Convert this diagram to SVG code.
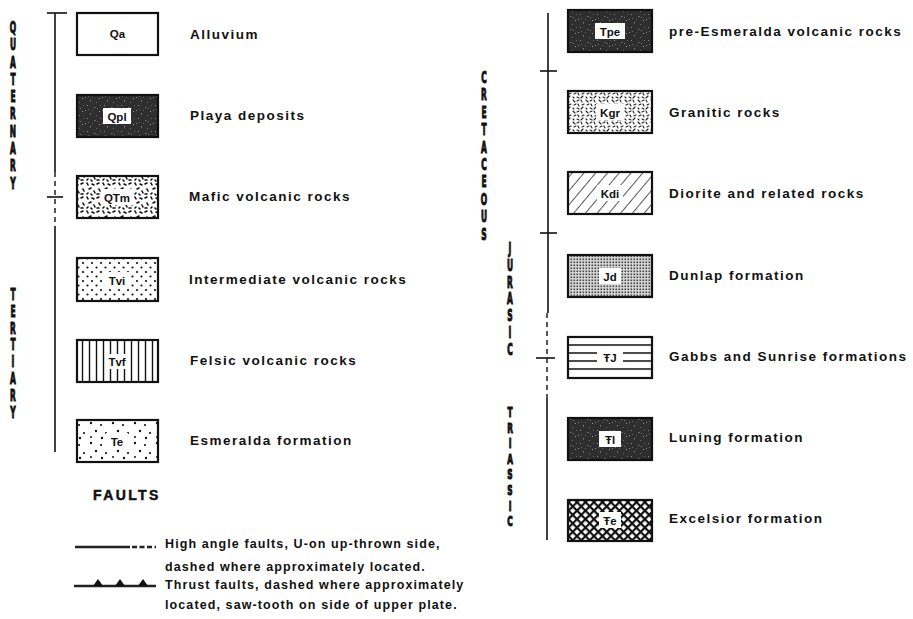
<svg xmlns="http://www.w3.org/2000/svg" width="913" height="619" viewBox="0 0 913 619">
<style>
.lbl{font-family:"Liberation Sans",Arial,sans-serif;font-weight:bold;font-size:13.5px;letter-spacing:1.5px;fill:#111}
.sym{font-family:"Liberation Sans",Arial,sans-serif;font-weight:bold;font-size:11.5px;fill:#111;text-anchor:middle}
.vert{font-family:"DejaVu Sans","Liberation Sans",sans-serif;font-weight:bold;font-size:15px;fill:#111;stroke:#111;stroke-width:1.1;text-anchor:middle}
.box{stroke:#111;stroke-width:2.2}
.tl{stroke:#111;stroke-width:1.6;fill:none}
.tld{stroke:#111;stroke-width:1.4;fill:none;stroke-dasharray:5 4}
.flt{font-family:"Liberation Sans",Arial,sans-serif;font-weight:bold;font-size:12.5px;letter-spacing:1.1px;fill:#111}
</style>
<defs>
<pattern id="dark" width="17" height="13" patternUnits="userSpaceOnUse">
<rect width="17" height="13" fill="#2e2e2e"/>
<rect x="2" y="1" width="1" height="1" fill="#8a8a8a"/><rect x="9" y="3" width="1.5" height="1" fill="#777"/>
<rect x="14" y="7" width="1" height="1" fill="#999"/><rect x="5" y="9" width="1" height="1.5" fill="#808080"/>
<rect x="11" y="11" width="1" height="1" fill="#6d6d6d"/><rect x="0" y="6" width="1" height="1" fill="#888"/>
<rect x="7" y="6" width="1" height="1" fill="#5e5e5e"/><rect x="15" y="1" width="1" height="1" fill="#666"/>
<rect x="12" y="4" width="1" height="1" fill="#777"/><rect x="3" y="5" width="1" height="1" fill="#6a6a6a"/>
</pattern>
<pattern id="mafic" width="16" height="14" patternUnits="userSpaceOnUse">
<rect width="16" height="14" fill="#fff"/>
<g stroke="#111" stroke-width="1.6" stroke-linecap="round">
<line x1="1" y1="2" x2="3" y2="1"/><line x1="7" y1="1" x2="8" y2="3"/><line x1="12" y1="2" x2="14" y2="3"/>
<line x1="3" y1="7" x2="4" y2="9"/><line x1="9" y1="7" x2="11" y2="6"/><line x1="14" y1="9" x2="15" y2="11"/>
<line x1="1" y1="12" x2="3" y2="12"/><line x1="7" y1="12" x2="8" y2="11"/><line x1="11" y1="12" x2="12" y2="13"/>
</g>
</pattern>
<pattern id="dots" width="9" height="9" patternUnits="userSpaceOnUse">
<rect width="9" height="9" fill="#fff"/>
<circle cx="2" cy="2" r="1.1" fill="#111"/><circle cx="6.5" cy="6.5" r="1.1" fill="#111"/>
</pattern>
<pattern id="vl" width="7" height="10" patternUnits="userSpaceOnUse" x="79">
<rect width="7" height="10" fill="#fff"/>
<line x1="3.5" y1="0" x2="3.5" y2="10" stroke="#111" stroke-width="1.4"/>
</pattern>
<pattern id="sparse" width="22" height="20" patternUnits="userSpaceOnUse">
<rect width="22" height="20" fill="#fff"/>
<g fill="#111"><circle cx="3" cy="3" r="1.2"/><circle cx="13" cy="5" r="1.1"/><circle cx="8" cy="11" r="1.2"/>
<circle cx="18" cy="13" r="1.1"/><circle cx="3" cy="17" r="1"/><circle cx="14" cy="18" r="1.2"/></g>
</pattern>
<pattern id="gran" width="13" height="11" patternUnits="userSpaceOnUse">
<rect width="13" height="11" fill="#fff"/>
<g stroke="#222" stroke-width="1.1" stroke-linecap="round">
<line x1="1" y1="1" x2="3" y2="3"/><line x1="5" y1="2" x2="7" y2="1"/><line x1="9" y1="1" x2="10" y2="3"/>
<line x1="2" y1="6" x2="4" y2="5"/><line x1="6" y1="5" x2="7" y2="7"/><line x1="10" y1="6" x2="12" y2="5"/>
<line x1="1" y1="9" x2="2" y2="10"/><line x1="5" y1="9" x2="7" y2="10"/><line x1="9" y1="10" x2="11" y2="8"/>
</g>
</pattern>
<pattern id="hatch" width="9" height="9" patternUnits="userSpaceOnUse" patternTransform="rotate(40)">
<rect width="9" height="9" fill="#fff"/>
<line x1="0" y1="0" x2="0" y2="9" stroke="#111" stroke-width="1.4"/>
</pattern>
<pattern id="stip" width="3" height="3" patternUnits="userSpaceOnUse">
<rect width="3" height="3" fill="#d8d8d8"/>
<rect x="0.5" y="0.5" width="1.6" height="1.6" fill="#444"/>
</pattern>
<pattern id="xh" width="6" height="6" patternUnits="userSpaceOnUse" patternTransform="rotate(45)">
<rect width="6" height="6" fill="#fff"/>
<rect width="6" height="2.2" fill="#111"/><rect width="2.2" height="6" fill="#111"/>
</pattern>
</defs>

<!-- timelines -->
<g id="connectors">
<line class="tl" x1="47" y1="13" x2="67" y2="13"/>
<line class="tl" x1="55" y1="13" x2="55" y2="172"/>
<line class="tld" x1="55" y1="172" x2="55" y2="226"/>
<line class="tl" x1="47" y1="197" x2="63" y2="197"/>
<line class="tl" x1="55" y1="226" x2="55" y2="452"/>

<line class="tl" x1="548" y1="13" x2="548" y2="313"/>
<line class="tl" x1="540" y1="71" x2="557" y2="71"/>
<line class="tl" x1="540" y1="233" x2="557" y2="233"/>
<line class="tld" x1="547" y1="313" x2="547" y2="398"/>
<line class="tl" x1="536" y1="358" x2="555" y2="358"/>
<line class="tl" x1="547" y1="398" x2="547" y2="540"/>
</g>

<!-- period labels -->
<g id="periods">
<text class="vert" transform="translate(13,0) scale(0.5,1)"><tspan x="0" y="33">Q</tspan><tspan x="0" dy="17.3">U</tspan><tspan x="0" dy="17.3">A</tspan><tspan x="0" dy="17.3">T</tspan><tspan x="0" dy="17.3">E</tspan><tspan x="0" dy="17.3">R</tspan><tspan x="0" dy="17.3">N</tspan><tspan x="0" dy="17.3">A</tspan><tspan x="0" dy="17.3">R</tspan><tspan x="0" dy="17.3">Y</tspan></text>
<text class="vert" transform="translate(13,0) scale(0.5,1)"><tspan x="0" y="300">T</tspan><tspan x="0" dy="16.8">E</tspan><tspan x="0" dy="16.8">R</tspan><tspan x="0" dy="16.8">T</tspan><tspan x="0" dy="16.8">I</tspan><tspan x="0" dy="16.8">A</tspan><tspan x="0" dy="16.8">R</tspan><tspan x="0" dy="16.8">Y</tspan></text>
<text class="vert" transform="translate(484,0) scale(0.5,1)"><tspan x="0" y="83">C</tspan><tspan x="0" dy="17.4">R</tspan><tspan x="0" dy="17.4">E</tspan><tspan x="0" dy="17.4">T</tspan><tspan x="0" dy="17.4">A</tspan><tspan x="0" dy="17.4">C</tspan><tspan x="0" dy="17.4">E</tspan><tspan x="0" dy="17.4">O</tspan><tspan x="0" dy="17.4">U</tspan><tspan x="0" dy="17.4">S</tspan></text>
<text class="vert" transform="translate(510,0) scale(0.5,1)"><tspan x="0" y="254">J</tspan><tspan x="0" dy="16.8">U</tspan><tspan x="0" dy="16.8">R</tspan><tspan x="0" dy="16.8">A</tspan><tspan x="0" dy="16.8">S</tspan><tspan x="0" dy="16.8">I</tspan><tspan x="0" dy="16.8">C</tspan></text>
<text class="vert" style="font-size:13.5px" transform="translate(510,0) scale(0.55,1)"><tspan x="0" y="417">T</tspan><tspan x="0" dy="15.6">R</tspan><tspan x="0" dy="15.6">I</tspan><tspan x="0" dy="15.6">A</tspan><tspan x="0" dy="15.6">S</tspan><tspan x="0" dy="15.6">S</tspan><tspan x="0" dy="15.6">I</tspan><tspan x="0" dy="15.6">C</tspan></text>
</g>

<!-- left column -->
<g id="Qa"><rect class="box" x="77" y="13" width="81" height="42" fill="#fff"/><text class="sym" x="117.5" y="38">Qa</text><text class="lbl" x="190" y="39">Alluvium</text></g>
<g id="Qpl"><rect class="box" x="77" y="95" width="81" height="42" fill="url(#dark)"/><rect x="103" y="108" width="28" height="16" fill="#fff"/><text class="sym" x="117" y="120.5">Qpl</text><text class="lbl" x="190" y="120">Playa deposits</text></g>
<g id="QTm"><rect class="box" x="77" y="176" width="81" height="42" fill="url(#mafic)"/><rect x="101" y="189" width="32" height="16" fill="#fff"/><text class="sym" x="117" y="201.5">QTm</text><text class="lbl" x="189" y="201">Mafic volcanic rocks</text></g>
<g id="Tvi"><rect class="box" x="77" y="258" width="81" height="43" fill="url(#dots)"/><rect x="104" y="272" width="26" height="16" fill="#fff"/><text class="sym" x="117" y="284.5">Tvi</text><text class="lbl" x="189" y="284">Intermediate volcanic rocks</text></g>
<g id="Tvf"><rect class="box" x="77" y="340" width="81" height="42" fill="url(#vl)"/><rect x="105" y="354" width="24" height="15" fill="#fff"/><text class="sym" x="117" y="366">Tvf</text><text class="lbl" x="190" y="365">Felsic volcanic rocks</text></g>
<g id="Te"><rect class="box" x="77" y="420" width="81" height="42" fill="url(#sparse)"/><rect x="106" y="433" width="22" height="16" fill="#fff"/><text class="sym" x="117" y="445.5">Te</text><text class="lbl" x="190" y="445">Esmeralda formation</text></g>

<!-- right column -->
<g id="Tpe"><rect class="box" x="568" y="10" width="84" height="42" fill="url(#dark)"/><rect x="595" y="23" width="30" height="16" fill="#fff"/><text class="sym" x="610" y="35.5">Tpe</text><text class="lbl" x="669" y="36">pre-Esmeralda volcanic rocks</text></g>
<g id="Kgr"><rect class="box" x="568" y="91" width="84" height="42" fill="url(#gran)"/><rect x="596" y="104" width="28" height="16" fill="#fff"/><text class="sym" x="610" y="116.5">Kgr</text><text class="lbl" x="669" y="117">Granitic rocks</text></g>
<g id="Kdi"><rect class="box" x="568" y="172" width="84" height="42" fill="url(#hatch)"/><rect x="597" y="185" width="26" height="16" fill="#fff"/><text class="sym" x="610" y="197.5">Kdi</text><text class="lbl" x="669" y="198">Diorite and related rocks</text></g>
<g id="Jd"><rect class="box" x="568" y="255" width="84" height="42" fill="url(#stip)"/><rect x="599" y="268" width="22" height="16" fill="#fff"/><text class="sym" x="610" y="280.5">Jd</text><text class="lbl" x="669" y="280">Dunlap formation</text></g>
<g id="TrJ"><rect class="box" x="568" y="337" width="84" height="41" fill="#fff"/>
<g stroke="#111" stroke-width="1.4"><line x1="569" y1="345" x2="651" y2="345"/><line x1="569" y1="353" x2="651" y2="353"/><line x1="569" y1="361" x2="651" y2="361"/><line x1="569" y1="369" x2="651" y2="369"/></g>
<rect x="597" y="349" width="26" height="16" fill="#fff"/><text class="sym" x="610" y="361.5">ŦJ</text><text class="lbl" x="669" y="361">Gabbs and Sunrise formations</text></g>
<g id="Trl"><rect class="box" x="568" y="418" width="84" height="42" fill="url(#dark)"/><rect x="599" y="431" width="22" height="16" fill="#fff"/><text class="sym" x="610" y="443.5">Ŧl</text><text class="lbl" x="669" y="442">Luning formation</text></g>
<g id="Tre"><rect class="box" x="568" y="500" width="84" height="41" fill="url(#xh)"/><rect x="599" y="512" width="22" height="16" fill="#fff"/><text class="sym" x="610" y="524.5">Ŧe</text><text class="lbl" x="669" y="523">Excelsior formation</text></g>

<!-- faults -->
<g id="faults">
<text x="93" y="500" style="font-family:'Liberation Sans',Arial,sans-serif;font-weight:900;font-size:14px;letter-spacing:2.4px;fill:#111;stroke:#111;stroke-width:0.5">FAULTS</text>
<g id="highangle">
<line x1="75" y1="547" x2="130" y2="547" stroke="#222" stroke-width="2.6"/>
<line x1="132" y1="547" x2="156" y2="547" stroke="#222" stroke-width="2.6" stroke-dasharray="5 2.5"/>
<text class="flt" x="165" y="548">High angle faults, U-on up-thrown side,</text>
<text class="flt" x="165" y="571">dashed where approximately located.</text>
</g>
<g id="thrust">
<line x1="74" y1="586" x2="156" y2="586" stroke="#222" stroke-width="2.6"/>
<g fill="#111"><polygon points="93,586 98,579 103,586"/><polygon points="115,586 120,579 125,586"/><polygon points="138,586 143,579 148,586"/></g>
<text class="flt" x="165" y="589">Thrust faults, dashed where approximately</text>
<text class="flt" x="165" y="609">located, saw-tooth on side of upper plate.</text>
</g>
</g>
</svg>
